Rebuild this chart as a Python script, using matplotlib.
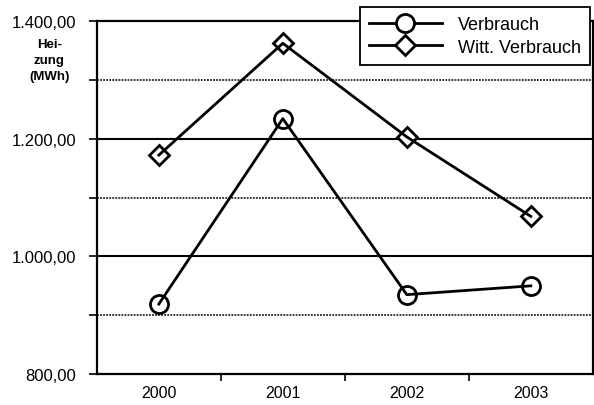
import matplotlib
matplotlib.use("Agg")
import matplotlib.pyplot as plt  # noqa: E402
from matplotlib.lines import Line2D  # noqa: E402

years = ["2000", "2001", "2002", "2003"]
verbrauch = [919, 1234, 935, 950]
witt_verbrauch = [1172, 1362, 1203, 1068]
y_major = [800, 1000, 1200, 1400]
y_minor = [900, 1100, 1300]
y_labels = ["800,00", "1.000,00", "1.200,00", "1.400,00"]

plt.rcParams.update({"font.family": ["Liberation Sans", "DejaVu Sans"], "font.size": 11})

fig = plt.figure(figsize=(5.94, 4.06), dpi=100)
ax = fig.add_axes([0.163, 0.076, 0.835, 0.870])
x = list(range(len(years)))

for v in y_major[1:-1]:
    ax.axhline(v, color="black", lw=1.5, zorder=1)
for v in y_minor:
    ax.axhline(v, color="black", lw=1.1, ls=(0, (1.2, 0.8)), zorder=1)

# markers first, lines drawn over them (as in the scan)
ax.plot(x, verbrauch, ls="none", marker="o", ms=13, mfc="white", mec="black", mew=2, zorder=3)
ax.plot(x, verbrauch, color="black", lw=2, zorder=4)
ax.plot(x, witt_verbrauch, ls="none", marker="D", ms=10, mfc="white", mec="black", mew=2, zorder=3)
ax.plot(x, witt_verbrauch, color="black", lw=2, zorder=4)

ax.set_xlim(-0.5, len(years) - 0.5)
ax.set_ylim(800, 1400)
ax.set_yticks(y_major)
ax.set_yticklabels(y_labels, fontsize=12)
ax.set_yticks(y_minor, minor=True)
ax.set_xticks(x)
ax.set_xticklabels(years, fontsize=11.5)
ax.set_xticks([i + 0.5 for i in x[:-1]], minor=True)
ax.tick_params(axis="x", which="major", length=0, pad=8)
ax.tick_params(axis="x", which="minor", length=5, width=1.2, direction="out")
ax.tick_params(axis="y", which="both", length=6, width=1.2, direction="out", pad=9)
for s in ax.spines.values():
    s.set_linewidth(1.6)

fig.text(0.083, 0.905, "Hei-\nzung\n(MWh)", ha="center", va="top",
         fontsize=9.5, fontweight="bold", linespacing=1.45)

handles = [
    Line2D([], [], color="black", lw=2, marker="o", ms=13, mfc="white", mec="black", mew=2),
    Line2D([], [], color="black", lw=2, marker="D", ms=10, mfc="white", mec="black", mew=2),
]
leg = fig.legend(handles, ["Verbrauch", "Witt. Verbrauch"], loc="upper right",
                 bbox_to_anchor=(0.993, 0.98), frameon=True, fancybox=False,
                 edgecolor="black", framealpha=1, handlelength=4.0, fontsize=13,
                 borderpad=0.5, labelspacing=0.3, handletextpad=0.9, borderaxespad=0)
leg.get_frame().set_linewidth(1.3)

fig.savefig("out.png", dpi=100)
